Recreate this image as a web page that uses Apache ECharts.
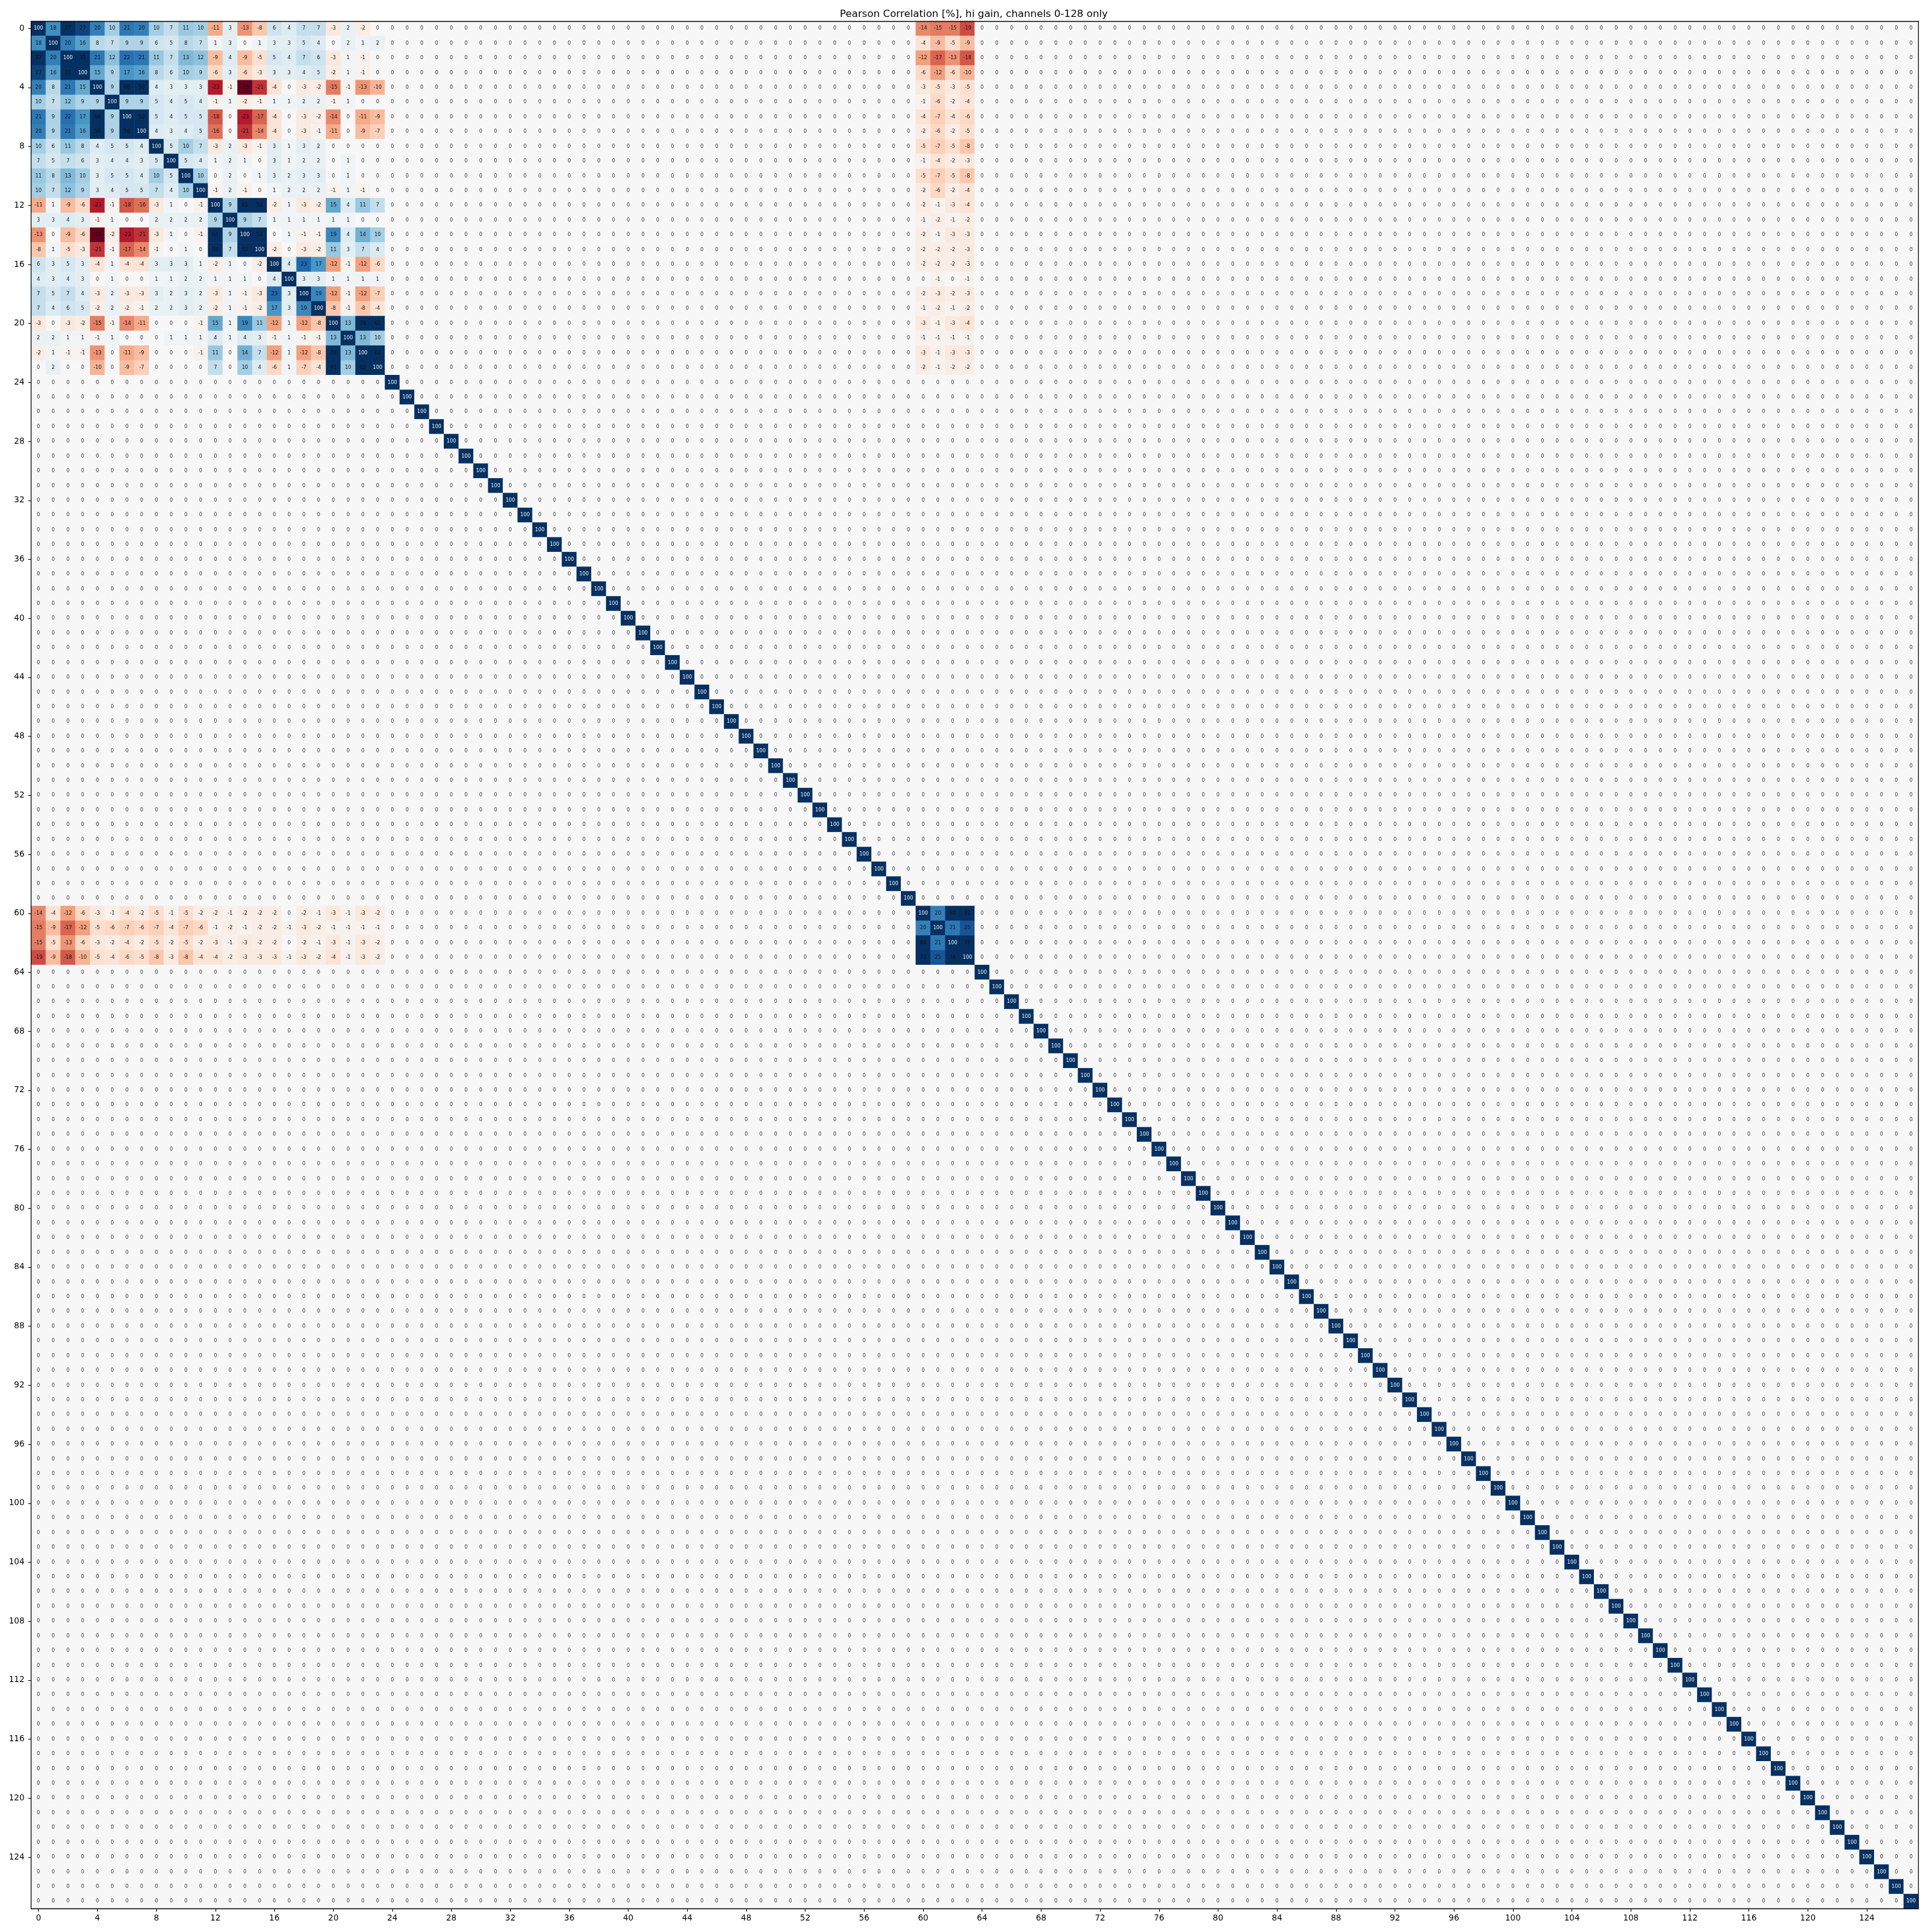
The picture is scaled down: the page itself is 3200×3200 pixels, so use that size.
<!DOCTYPE html>
<html>
<head>
<meta charset="utf-8">
<style>html,body{margin:0;padding:0;background:#fff}#c{width:3200px;height:3200px}</style>
<script src="https://cdn.jsdelivr.net/npm/echarts@6/dist/echarts.min.js"></script>
</head>
<body>
<div id="c"></div>
<script>
const channelCount = 128;
const titleText = 'Pearson Correlation [%], hi gain, channels 0-128 only';
const rdBu = ['#67001f','#b2182b','#d6604d','#f4a582','#fddbc7','#f7f7f7','#d1e5f0','#92c5de','#4393c3','#2166ac','#053061'];
const colorLimit = 29;

// channels 0-23 against channels 0-23
const blockA = [
[100,18,37,27,20,10,21,20,10,7,11,10,-11,3,-13,-8,6,4,7,7,-3,2,-2,0],
[18,100,20,16,8,7,9,9,6,5,8,7,1,3,0,1,3,3,5,4,0,2,1,2],
[37,20,100,31,21,12,22,21,11,7,13,12,-9,4,-9,-5,5,4,7,6,-3,1,-1,0],
[27,16,31,100,15,9,17,16,8,6,10,9,-6,3,-6,-3,3,3,4,5,-2,1,-1,0],
[20,8,21,15,100,9,66,50,4,3,3,3,-23,-1,-29,-21,-4,0,-3,-2,-15,-1,-13,-10],
[10,7,12,9,9,100,9,9,5,4,5,4,-1,1,-2,-1,1,1,2,2,-1,1,0,0],
[21,9,22,17,66,9,100,50,5,4,5,5,-18,0,-23,-17,-4,0,-3,-2,-14,0,-11,-9],
[20,9,21,16,50,9,50,100,4,3,4,5,-16,0,-21,-14,-4,0,-3,-1,-11,0,-9,-7],
[10,6,11,8,4,5,5,4,100,5,10,7,-3,2,-3,-1,3,1,3,2,0,0,0,0],
[7,5,7,6,3,4,4,3,5,100,5,4,1,2,1,0,3,1,2,2,0,1,0,0],
[11,8,13,10,3,5,5,4,10,5,100,10,0,2,0,1,3,2,3,3,0,1,0,0],
[10,7,12,9,3,4,5,5,7,4,10,100,-1,2,-1,0,1,2,2,2,-1,1,-1,0],
[-11,1,-9,-6,-23,-1,-18,-16,-3,1,0,-1,100,9,65,50,-2,1,-3,-2,15,4,11,7],
[3,3,4,3,-1,1,0,0,2,2,2,2,9,100,9,7,1,1,1,1,1,1,0,0],
[-13,0,-9,-6,-29,-2,-23,-21,-3,1,0,-1,65,9,100,53,0,1,-1,-1,19,4,14,10],
[-8,1,-5,-3,-21,-1,-17,-14,-1,0,1,0,50,7,53,100,-2,0,-3,-2,11,3,7,4],
[6,3,5,3,-4,1,-4,-4,3,3,3,1,-2,1,0,-2,100,4,23,17,-12,-1,-12,-6],
[4,3,4,3,0,1,0,0,1,1,2,2,1,1,1,0,4,100,3,3,1,1,1,1],
[7,5,7,4,-3,2,-3,-3,3,2,3,2,-3,1,-1,-3,23,3,100,19,-12,-1,-12,-7],
[7,4,6,5,-2,2,-2,-1,2,2,3,2,-2,1,-1,-2,17,3,19,100,-8,-1,-8,-4],
[-3,0,-3,-2,-15,-1,-14,-11,0,0,0,-1,15,1,19,11,-12,1,-12,-8,100,13,78,61],
[2,2,1,1,-1,1,0,0,0,1,1,1,4,1,4,3,-1,1,-1,-1,13,100,13,10],
[-2,1,-1,-1,-13,0,-11,-9,0,0,0,-1,11,0,14,7,-12,1,-12,-8,78,13,100,62],
[0,2,0,0,-10,0,-9,-7,0,0,0,0,7,0,10,4,-6,1,-7,-4,61,10,62,100]
];
// channels 0-23 (rows) against channels 60-63 (columns)
const blockAB = [
[-14,-15,-15,-19],[-4,-9,-5,-9],[-12,-17,-13,-18],[-6,-12,-6,-10],
[-3,-5,-3,-5],[-1,-6,-2,-4],[-4,-7,-4,-6],[-2,-6,-2,-5],
[-5,-7,-5,-8],[-1,-4,-2,-3],[-5,-7,-5,-8],[-2,-6,-2,-4],
[-2,-1,-3,-4],[-1,-2,-1,-2],[-2,-1,-3,-3],[-2,-2,-2,-3],
[-2,-2,-2,-3],[0,-1,0,-1],[-2,-3,-2,-3],[-1,-2,-1,-2],
[-3,-1,-3,-4],[-1,-1,-1,-1],[-3,-1,-3,-3],[-2,-1,-2,-2]
];
// channels 60-63 against channels 60-63
const blockB = [
[100,20,84,72],
[20,100,21,25],
[84,21,100,74],
[72,25,74,100]
];
const blockBStart = 60;

const categories = Array.from({length: channelCount}, (_, i) => String(i));
const matrix = categories.map((_, r) => categories.map((_, c) => r === c ? 100 : 0));
blockA.forEach((row, r) => row.forEach((v, c) => { matrix[r][c] = v; }));
blockAB.forEach((row, r) => row.forEach((v, c) => {
  matrix[r][blockBStart + c] = v;
  matrix[blockBStart + c][r] = v;
}));
blockB.forEach((row, r) => row.forEach((v, c) => { matrix[blockBStart + r][blockBStart + c] = v; }));

const cells = [];
matrix.forEach((row, r) => row.forEach((v, c) => {
  const clipped = Math.max(-colorLimit, Math.min(colorLimit, v));
  const item = {value: [c, r, clipped, v]};
  if (v === 100) item.label = {color: '#f2f2f2'};
  else if (v !== 0) item.label = {color: '#111'};
  cells.push(item);
}));

const chart = echarts.init(document.getElementById('c'), null, {renderer: 'canvas', width: 3200, height: 3200});
const font = '"DejaVu Sans"';
const spine = {show: true, onZero: false, lineStyle: {color: '#000', width: 1.3}};
const axisBase = {
  type: 'category',
  data: categories,
  boundaryGap: true,
  z: 5,
  splitLine: {show: false},
  splitArea: {show: false},
  axisLine: spine,
  axisTick: {show: true, alignWithLabel: true, interval: 3, length: 5, lineStyle: {color: '#000', width: 1.1}},
  axisLabel: {show: true, interval: 3, color: '#000', fontSize: 13.5, fontFamily: font}
};
const bare = {axisTick: {show: false}, axisLabel: {show: false}};
chart.setOption({
  animation: false,
  backgroundColor: '#fff',
  title: {
    text: titleText, left: 1608, top: 10, textAlign: 'center',
    textStyle: {fontFamily: font, fontWeight: 'normal', fontSize: 16.67, color: '#000'}
  },
  grid: {left: 51.5, top: 35, width: 3126, height: 3126.5, show: false, containLabel: false},
  xAxis: [
    Object.assign({}, axisBase, {position: 'bottom', axisLabel: Object.assign({}, axisBase.axisLabel, {margin: 9})}),
    Object.assign({}, axisBase, bare, {position: 'top'})
  ],
  yAxis: [
    Object.assign({}, axisBase, {inverse: true, position: 'left', axisLabel: Object.assign({}, axisBase.axisLabel, {margin: 11})}),
    Object.assign({}, axisBase, bare, {inverse: true, position: 'right'})
  ],
  visualMap: {
    show: false, type: 'continuous', dimension: 2, min: -colorLimit, max: colorLimit,
    inRange: {color: rdBu}, seriesIndex: 0
  },
  series: [{
    type: 'heatmap',
    xAxisIndex: 0,
    yAxisIndex: 0,
    data: cells,
    encode: {x: 0, y: 1},
    silent: true,
    progressive: 0,
    animation: false,
    emphasis: {disabled: true},
    label: {
      show: true, fontSize: 8.2, fontFamily: font, color: '#333',
      formatter: p => String(p.value[3])
    }
  }]
});
</script>
</body>
</html>
